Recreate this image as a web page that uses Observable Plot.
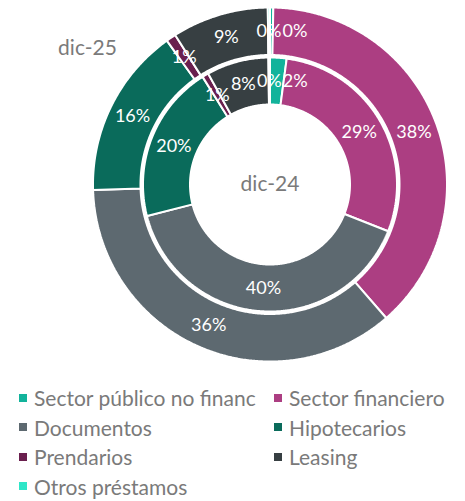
<!DOCTYPE html>
<html>
<head>
<meta charset="utf-8">
<script src="https://cdn.jsdelivr.net/npm/d3@7"></script>
<script src="https://cdn.jsdelivr.net/npm/@observablehq/plot@0.6"></script>
<style>
  html, body { margin: 0; padding: 0; background: #fff; }
  #chart { width: 465px; }
  .legend { display: grid; grid-template-columns: 255px 190px; padding: 11px 0 0 19px; font-family: Lato, "Noto Sans", sans-serif; font-size: 21px; color: #7a7a7a; }
  .item { display: flex; align-items: center; height: 29.5px; white-space: nowrap; }
  .sw { width: 8px; height: 8px; margin-right: 7px; flex: none; }
</style>
</head>
<body>
<div id="chart"></div>
<script>
const categories = ["Sector público no financ", "Sector financiero", "Documentos", "Hipotecarios", "Prendarios", "Leasing", "Otros préstamos"];
const dic24 = [2.1, 28.9, 40.0, 20.1, 0.8, 7.9, 0.2];
const dic25 = [0.3, 38.3, 35.9, 15.6, 0.9, 8.8, 0.2];
const colors = ["#12b39b", "#ac3e82", "#5d6970", "#0a6b5b", "#6a1f4e", "#373f42", "#2fe6c8"];
const seriesNames = ["dic-24", "dic-25"];

const W = 465, H = 372, cx = 269.5, cy = 184, R = 176;
const labelSize = 18;
const rings = [
  {name: seriesNames[0], values: dic24, r0: 80 / R, r1: 127 / R},
  {name: seriesNames[1], values: dic25, r0: 129.5 / R, r1: 177 / R}
];

const polar = (ang, r) => [r * Math.sin(ang), r * Math.cos(ang)];
const polys = [];
const labels = [];
for (const ring of rings) {
  const total = d3.sum(ring.values);
  let acc = 0;
  const ringLabels = [];
  ring.values.forEach((v, i) => {
    const a0 = acc / total * 2 * Math.PI;
    acc += v;
    const a1 = acc / total * 2 * Math.PI;
    const key = ring.name + "|" + categories[i];
    const n = Math.max(2, Math.ceil((a1 - a0) / (Math.PI / 360)));
    const pts = [];
    for (let k = 0; k <= n; k++) pts.push(polar(a0 + (a1 - a0) * k / n, ring.r1));
    for (let k = n; k >= 0; k--) pts.push(polar(a0 + (a1 - a0) * k / n, ring.r0));
    pts.push(pts[0]);
    for (const [x, y] of pts) polys.push({x, y, key, cat: categories[i]});
    const [lx, ly] = polar((a0 + a1) / 2, (ring.r0 + ring.r1) / 2);
    ringLabels.push({x: lx, y: ly, dx: 0, text: Math.round(v) + "%"});
  });
  // simple collision avoidance: push crowded labels to the right (in pixels)
  const sorted = ringLabels.slice().sort((a, b) => a.x - b.x);
  const wOf = l => l.text.length * 0.72 * labelSize;
  for (let i = 1; i < sorted.length; i++) {
    for (let j = 0; j < i; j++) {
      const a = sorted[j], b = sorted[i];
      if (Math.abs(a.y - b.y) * R > labelSize * 0.8) continue;
      const ax = a.x * R + a.dx, bx = b.x * R + b.dx;
      const minDist = (wOf(a) + wOf(b)) / 2;
      if (bx - ax < minDist) b.dx += minDist - (bx - ax);
    }
  }
  labels.push(...ringLabels);
}
const [tx, ty] = polar(306.7 / 180 * Math.PI, 227.6 / R);
const titles = [{x: 0, y: 0, text: seriesNames[0]}, {x: tx, y: ty, text: seriesNames[1]}];

const plot = Plot.plot({
  width: W, height: H,
  margin: 0,
  x: {domain: [-cx / R, (W - cx) / R], axis: null},
  y: {domain: [-(H - cy) / R, cy / R], axis: null},
  color: {domain: categories, range: colors},
  style: {fontFamily: "Lato, 'Noto Sans', sans-serif", background: "white"},
  marks: [
    Plot.line(polys, {x: "x", y: "y", z: "key", fill: "cat", stroke: "white", strokeWidth: 2, strokeLinejoin: "miter", curve: "linear"}),
    ...labels.map(l => Plot.text([l], {x: "x", y: "y", text: "text", dx: l.dx, fill: "white", fontSize: labelSize})),
    Plot.text(titles, {x: "x", y: "y", text: "text", fill: "#7a7a7a", fontSize: 21})
  ]
});
document.getElementById("chart").appendChild(plot);

const legend = document.createElement("div");
legend.className = "legend";
categories.forEach((c, i) => {
  const it = document.createElement("div");
  it.className = "item";
  const sw = document.createElement("span");
  sw.className = "sw";
  sw.style.background = colors[i];
  const t = document.createElement("span");
  t.textContent = c;
  it.appendChild(sw); it.appendChild(t);
  legend.appendChild(it);
});
document.getElementById("chart").appendChild(legend);
</script>
</body>
</html>
